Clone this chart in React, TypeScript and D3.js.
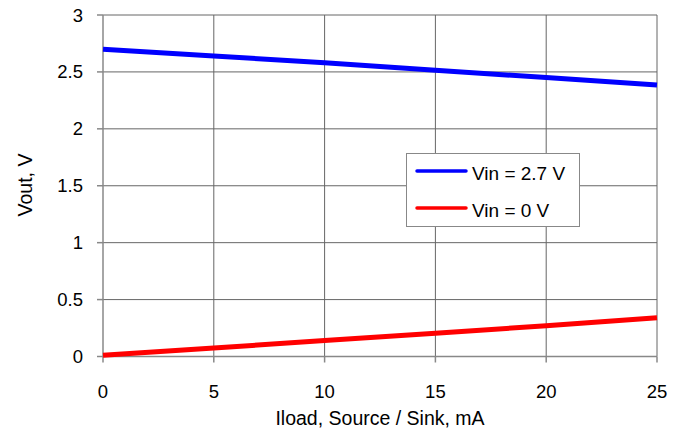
import React from "react";
import * as d3 from "d3";

const iload = [0, 5, 10, 15, 20, 25];
const vinHigh = [2.7, 2.64, 2.58, 2.515, 2.45, 2.385];
const vinZero = [0.01, 0.075, 0.14, 0.205, 0.27, 0.34];
const xTicks = [0, 5, 10, 15, 20, 25];
const yTicks = [0, 0.5, 1, 1.5, 2, 2.5, 3];
const seriesNames = ["Vin = 2.7 V", "Vin = 0 V"];
const seriesColors = ["#0000ff", "#ff0000"];

export default function App() {
  const W = 683, H = 432;
  const L = 103, R = 657, T = 15, B = 356.5;
  const x = d3.scaleLinear().domain([0, 25]).range([L, R]);
  const y = d3.scaleLinear().domain([0, 3]).range([B, T]);
  const line = d3.line<number>().x((_, i) => x(iload[i])).y((d) => y(d));
  const series = [vinHigh, vinZero];
  const font = "Liberation Sans, Arial, sans-serif";
  return (
    <svg width={W} height={H} style={{ position: "absolute", left: 0, top: 0 }} fontFamily={font}>
      <rect x={0} y={0} width={W} height={H} fill="#fff" />
      {xTicks.slice(1).map((t) => (
        <line key={"gx" + t} x1={x(t)} x2={x(t)} y1={T} y2={B} stroke="#666" strokeWidth={1} />
      ))}
      {yTicks.slice(1).map((t) => (
        <line key={"gy" + t} x1={L} x2={R} y1={y(t)} y2={y(t)} stroke="#666" strokeWidth={1} />
      ))}
      <line x1={L} x2={L} y1={T} y2={B} stroke="#888" strokeWidth={1.5} />
      <line x1={L} x2={R} y1={B} y2={B} stroke="#888" strokeWidth={1.5} />
      {yTicks.map((t) => (
        <g key={"ty" + t}>
          <line x1={L - 6} x2={L} y1={y(t)} y2={y(t)} stroke="#888" strokeWidth={1.5} />
          <text x={83} y={y(t) + 6.5} textAnchor="end" fontSize={18.5} fill="#000">{t}</text>
        </g>
      ))}
      {xTicks.map((t) => (
        <g key={"tx" + t}>
          <line x1={x(t)} x2={x(t)} y1={B} y2={B + 6} stroke="#888" strokeWidth={1.5} />
          <text x={x(t)} y={398} textAnchor="middle" fontSize={18.5} fill="#000">{t}</text>
        </g>
      ))}
      {series.map((s, i) => (
        <path key={"s" + i} d={line(s) || ""} fill="none" stroke={seriesColors[i]} strokeWidth={5} />
      ))}
      <text x={380} y={425} textAnchor="middle" fontSize={19.5} fill="#000">Iload, Source / Sink, mA</text>
      <text transform="translate(32,185) rotate(-90)" textAnchor="middle" fontSize={19.5} fill="#000">Vout, V</text>
      <rect x={406.5} y={153.5} width={173} height={73} fill="#fff" stroke="#888" strokeWidth={1} />
      {seriesNames.map((n, i) => (
        <g key={"lg" + i}>
          <line x1={417} x2={466} y1={171 + i * 37} y2={171 + i * 37} stroke={seriesColors[i]} strokeWidth={3.5} strokeLinecap="round" />
          <text x={472} y={171 + i * 37 + 8.5} fontSize={19} fill="#000">{n}</text>
        </g>
      ))}
    </svg>
  );
}
